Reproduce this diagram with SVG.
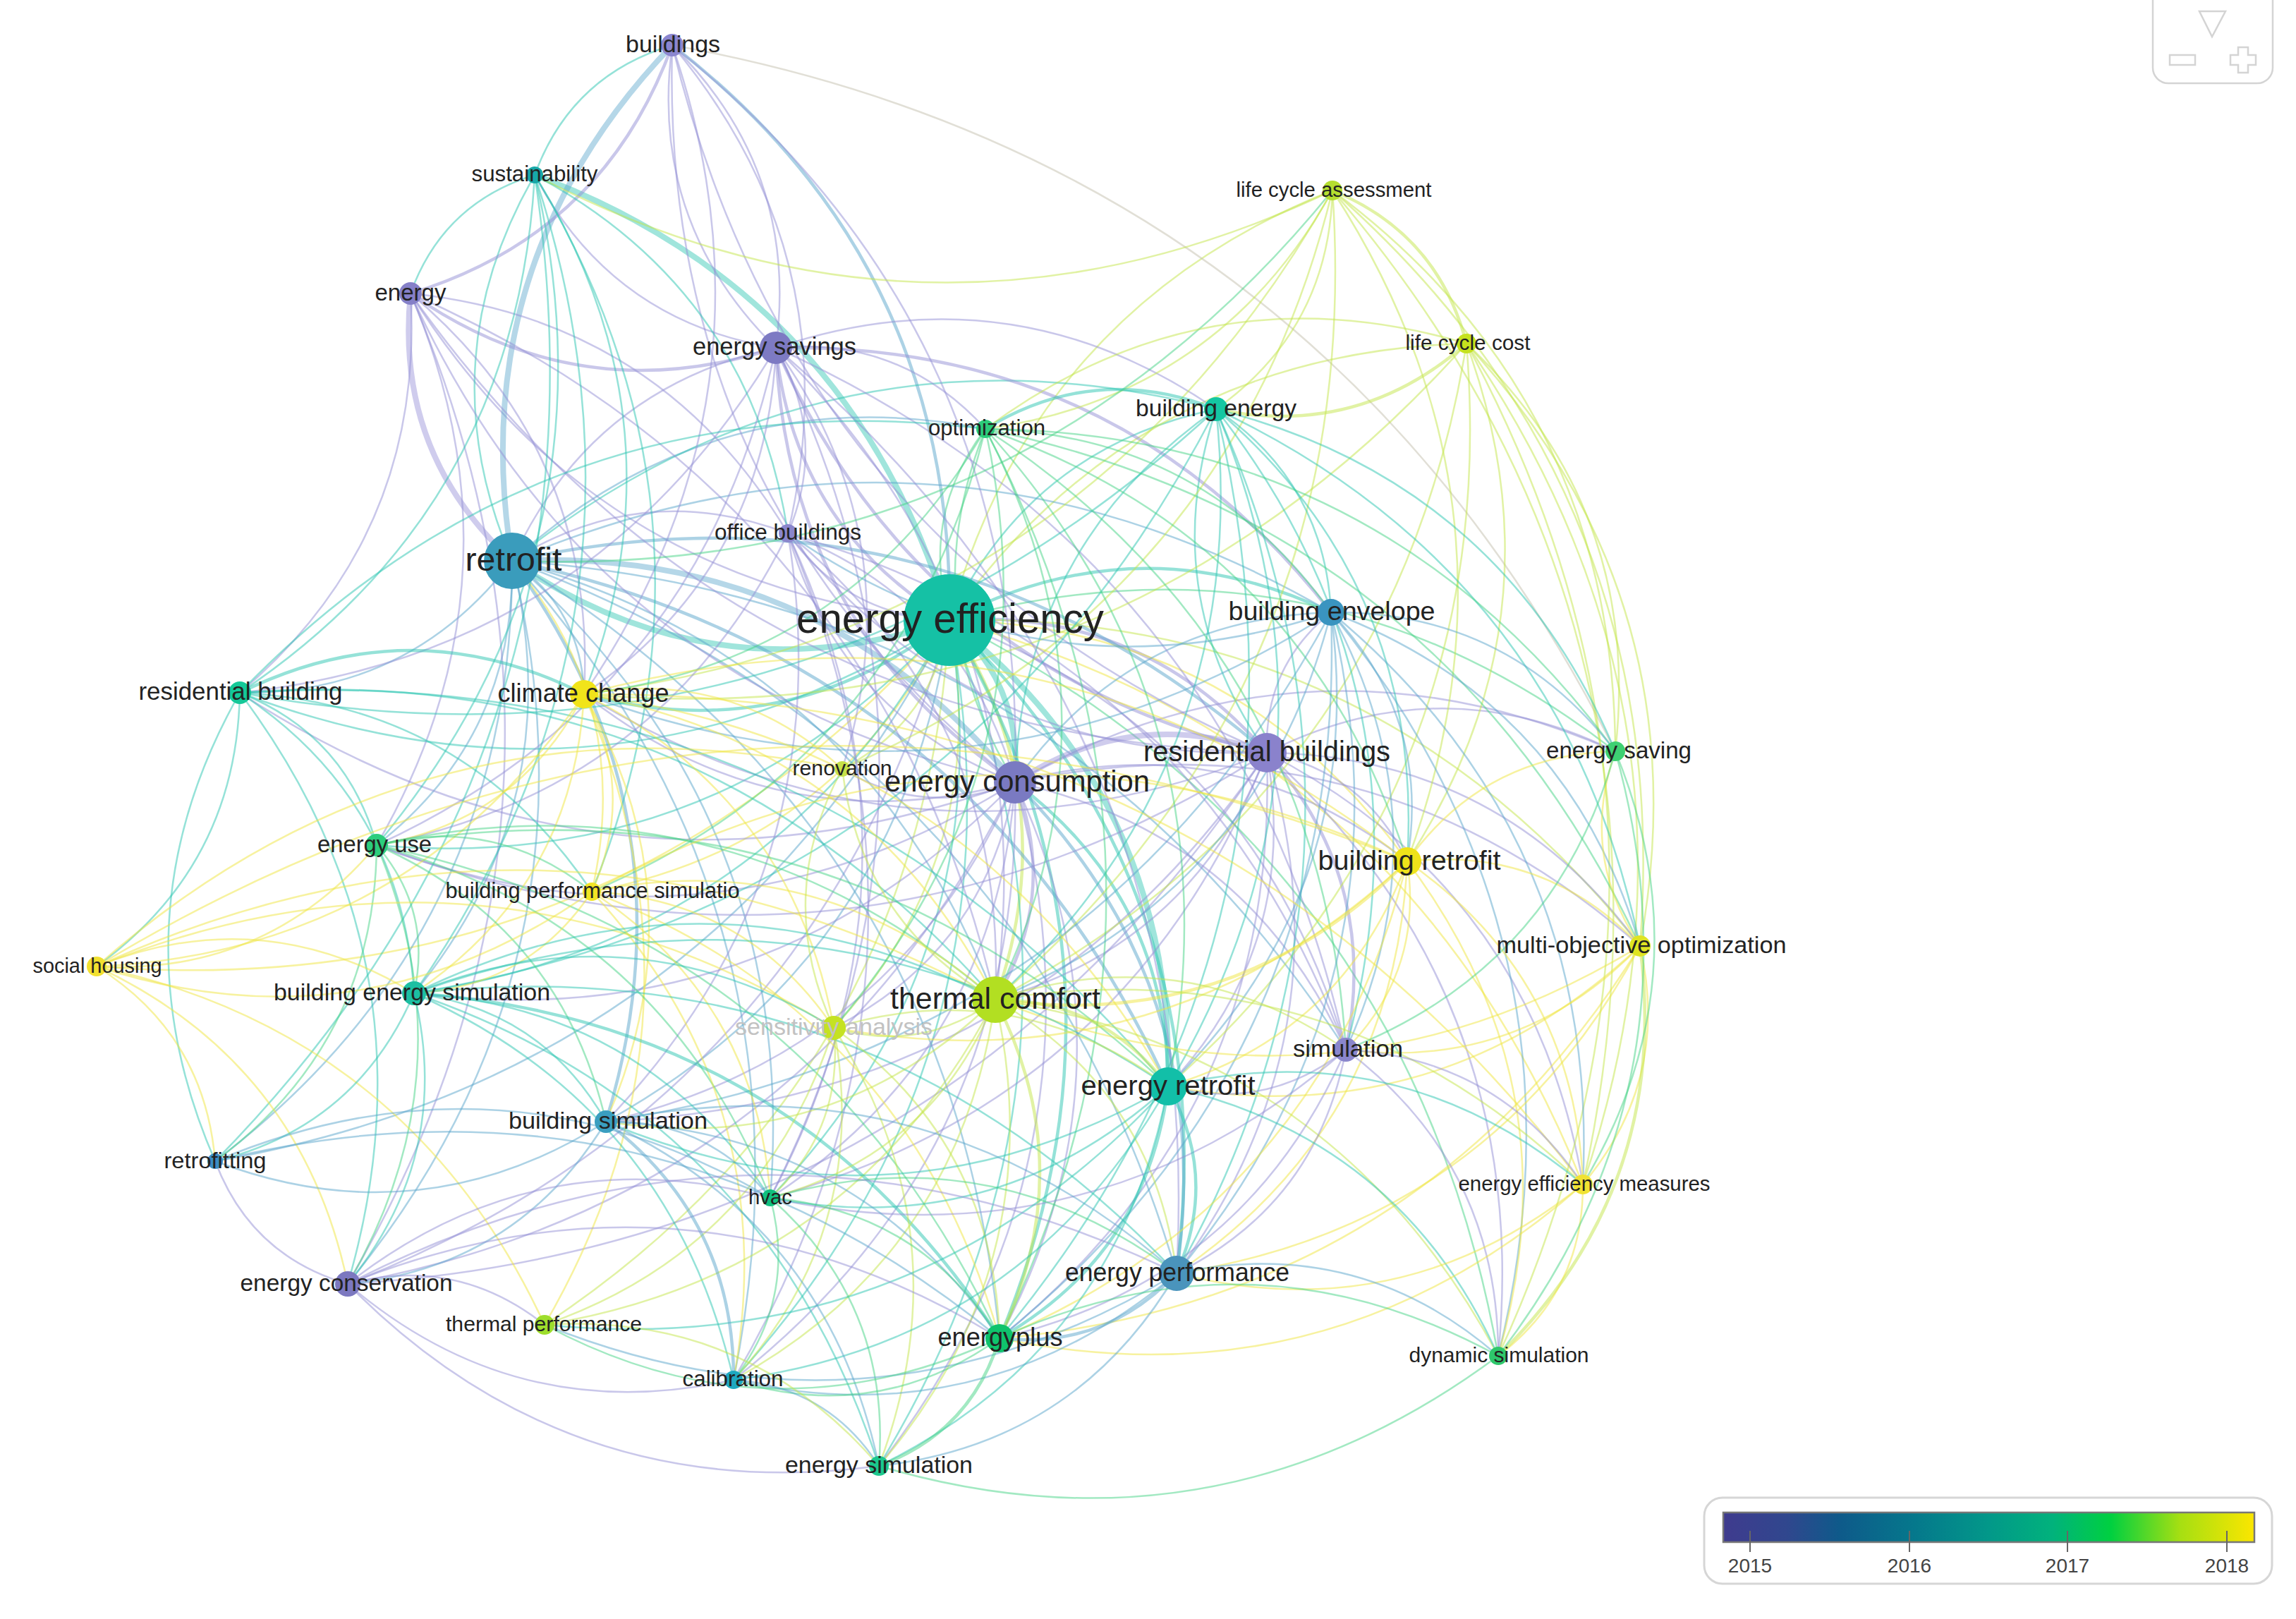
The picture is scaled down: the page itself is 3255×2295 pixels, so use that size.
<svg xmlns="http://www.w3.org/2000/svg" width="3255" height="2295" viewBox="0 0 3255 2295">
<defs>
<linearGradient id="leg" x1="0" y1="0" x2="1" y2="0">
<stop offset="0" stop-color="#3f3b8e"/>
<stop offset="0.12" stop-color="#30478e"/>
<stop offset="0.22" stop-color="#0e5a8a"/>
<stop offset="0.36" stop-color="#05788c"/>
<stop offset="0.5" stop-color="#029889"/>
<stop offset="0.62" stop-color="#01b27c"/>
<stop offset="0.73" stop-color="#00d040"/>
<stop offset="0.86" stop-color="#a6df12"/>
<stop offset="1" stop-color="#fbe600"/>
</linearGradient>
</defs>
<style>
.e path{fill:none;stroke-opacity:.5;stroke-width:2.5;vector-effect:non-scaling-stroke}
.e .m{stroke-width:4.5}
.e .h{stroke-width:8;stroke-opacity:.45}
.p{stroke:#948fd6}
.b{stroke:#5aa6cc}
.t{stroke:#2cc6b2}
.g{stroke:#46d486}
.y{stroke:#c4e64a}
.Y{stroke:#efe540}
.k{stroke:#c4bfae}
.n text{font-family:"Liberation Sans",Arial,sans-serif;fill:#222;text-anchor:middle}
.lg{font-family:"Liberation Sans",Arial,sans-serif;fill:#444;font-size:28px;text-anchor:middle}
</style>
<rect width="3255" height="2295" fill="#fff"/>
<g id="connectors" class="e">
<path class="t h" transform="matrix(588 631 -631 588 758 248)" d="M0 0Q.5-.25 1 0"/>
<path class="t h" transform="matrix(-620 -84 84 -620 1346 879)" d="M0 0Q.5-.25 1 0"/>
<path class="t h" transform="matrix(93 230 -230 93 1346 879)" d="M0 0Q.5-.25 1 0"/>
<path class="t h" transform="matrix(310 661 -661 310 1346 879)" d="M0 0Q.5-.25 1 0"/>
<path class="p m" transform="matrix(-246 -386 386 -246 1346 879)" d="M0 0Q.5-.25 1 0"/>
<path class="p m" transform="matrix(450 188 -188 450 1346 879)" d="M0 0Q.5-.25 1 0"/>
<path class="t m" transform="matrix(541 -11 11 541 1346 879)" d="M0 0Q.5-.25 1 0"/>
<path class="t" transform="matrix(378 -299 299 378 1346 879)" d="M0 0Q.5-.25 1 0"/>
<path class="g" transform="matrix(51 -271 271 51 1346 879)" d="M0 0Q.5-.25 1 0"/>
<path class="p" transform="matrix(-229 -123 123 -229 1346 879)" d="M0 0Q.5-.25 1 0"/>
<path class="t m" transform="matrix(-518 105 -105 -518 1346 879)" d="M0 0Q.5-.25 1 0"/>
<path class="t" transform="matrix(-1006 103 -103 -1006 1346 879)" d="M0 0Q.5-.25 1 0"/>
<path class="t" transform="matrix(-812 319 -319 -812 1346 879)" d="M0 0Q.5-.25 1 0"/>
<path class="Y" transform="matrix(-507 385 -385 -507 1346 879)" d="M0 0Q.5-.25 1 0"/>
<path class="t" transform="matrix(-759 529 -529 -759 1346 879)" d="M0 0Q.5-.25 1 0"/>
<path class="y m" transform="matrix(65 538 -538 65 1346 879)" d="M0 0Q.5-.25 1 0"/>
<path class="y" transform="matrix(-164 578 -578 -164 1346 879)" d="M0 0Q.5-.25 1 0"/>
<path class="t m" transform="matrix(322 926 -926 322 1346 879)" d="M0 0Q.5-.25 1 0"/>
<path class="t m" transform="matrix(71 1018 -1018 71 1346 879)" d="M0 0Q.5-.25 1 0"/>
<path class="t" transform="matrix(-254 819 -819 -254 1346 879)" d="M0 0Q.5-.25 1 0"/>
<path class="t" transform="matrix(-306 1077 -1077 -306 1346 879)" d="M0 0Q.5-.25 1 0"/>
<path class="t" transform="matrix(-100 1199 -1199 -100 1346 879)" d="M0 0Q.5-.25 1 0"/>
<path class="b" transform="matrix(-487 711 -711 -487 1346 879)" d="M0 0Q.5-.25 1 0"/>
<path class="p" transform="matrix(562 609 -609 562 1346 879)" d="M0 0Q.5-.25 1 0"/>
<path class="Y" transform="matrix(649 342 -342 649 1346 879)" d="M0 0Q.5-.25 1 0"/>
<path class="y" transform="matrix(979 462 -462 979 1346 879)" d="M0 0Q.5-.25 1 0"/>
<path class="g" transform="matrix(944 186 -186 944 1346 879)" d="M0 0Q.5-.25 1 0"/>
<path class="y" transform="matrix(733 -392 392 733 1346 879)" d="M0 0Q.5-.25 1 0"/>
<path class="y" transform="matrix(543 -609 609 543 1346 879)" d="M0 0Q.5-.25 1 0"/>
<path class="Y" transform="matrix(898 800 -800 898 1346 879)" d="M0 0Q.5-.25 1 0"/>
<path class="g" transform="matrix(778 1043 -1043 778 1346 879)" d="M0 0Q.5-.25 1 0"/>
<path class="p" transform="matrix(-853 941 -941 -853 1346 879)" d="M0 0Q.5-.25 1 0"/>
<path class="b" transform="matrix(-1041 767 -767 -1041 1346 879)" d="M0 0Q.5-.25 1 0"/>
<path class="Y" transform="matrix(-1209 491 -491 -1209 1346 879)" d="M0 0Q.5-.25 1 0"/>
<path class="p" transform="matrix(-764 -463 463 -764 1346 879)" d="M0 0Q.5-.25 1 0"/>
<path class="b m" transform="matrix(393 815 -815 393 953 64)" d="M0 0Q.5-.25 1 0"/>
<path class="y" transform="matrix(-152 211 -211 -152 1346 879)" d="M0 0Q.5-.25 1 0"/>
<path class="y" transform="matrix(-574 999 -999 -574 1346 879)" d="M0 0Q.5-.25 1 0"/>
<path class="b h" transform="matrix(227 -731 731 227 726 795)" d="M0 0Q.5-.25 1 0"/>
<path class="p h" transform="matrix(-144 -379 379 -144 726 795)" d="M0 0Q.5-.25 1 0"/>
<path class="t" transform="matrix(32 -547 547 32 726 795)" d="M0 0Q.5-.25 1 0"/>
<path class="p" transform="matrix(374 -302 302 374 726 795)" d="M0 0Q.5-.25 1 0"/>
<path class="b h" transform="matrix(713 314 -314 713 726 795)" d="M0 0Q.5-.25 1 0"/>
<path class="b m" transform="matrix(1070 272 -272 1070 726 795)" d="M0 0Q.5-.25 1 0"/>
<path class="b" transform="matrix(1161 73 -73 1161 726 795)" d="M0 0Q.5-.25 1 0"/>
<path class="b" transform="matrix(102 189 -189 102 726 795)" d="M0 0Q.5-.25 1 0"/>
<path class="b" transform="matrix(-386 187 -187 -386 726 795)" d="M0 0Q.5-.25 1 0"/>
<path class="b" transform="matrix(-192 403 -403 -192 726 795)" d="M0 0Q.5-.25 1 0"/>
<path class="b" transform="matrix(-139 613 -613 -139 726 795)" d="M0 0Q.5-.25 1 0"/>
<path class="b m" transform="matrix(133 795 -795 133 726 795)" d="M0 0Q.5-.25 1 0"/>
<path class="b m" transform="matrix(930 745 -745 930 726 795)" d="M0 0Q.5-.25 1 0"/>
<path class="b" transform="matrix(942 1010 -1010 942 726 795)" d="M0 0Q.5-.25 1 0"/>
<path class="b" transform="matrix(685 622 -622 685 726 795)" d="M0 0Q.5-.25 1 0"/>
<path class="b" transform="matrix(1182 693 -693 1182 726 795)" d="M0 0Q.5-.25 1 0"/>
<path class="b" transform="matrix(-233 1025 -1025 -233 726 795)" d="M0 0Q.5-.25 1 0"/>
<path class="b" transform="matrix(-421 851 -851 -421 726 795)" d="M0 0Q.5-.25 1 0"/>
<path class="b" transform="matrix(671 -187 187 671 726 795)" d="M0 0Q.5-.25 1 0"/>
<path class="t" transform="matrix(998 -215 215 998 726 795)" d="M0 0Q.5-.25 1 0"/>
<path class="b" transform="matrix(314 1161 -1161 314 726 795)" d="M0 0Q.5-.25 1 0"/>
<path class="b" transform="matrix(691 1102 -1102 691 726 795)" d="M0 0Q.5-.25 1 0"/>
<path class="b" transform="matrix(366 903 -903 366 726 795)" d="M0 0Q.5-.25 1 0"/>
<path class="p" transform="matrix(391 -39 39 391 726 795)" d="M0 0Q.5-.25 1 0"/>
<path class="Y" transform="matrix(113 469 -469 113 726 795)" d="M0 0Q.5-.25 1 0"/>
<path class="p m" transform="matrix(-339 -616 616 -339 1439 1109)" d="M0 0Q.5-.25 1 0"/>
<path class="p" transform="matrix(-857 -693 693 -857 1439 1109)" d="M0 0Q.5-.25 1 0"/>
<path class="p" transform="matrix(-486 -1045 1045 -486 1439 1109)" d="M0 0Q.5-.25 1 0"/>
<path class="p" transform="matrix(-322 -353 353 -322 1439 1109)" d="M0 0Q.5-.25 1 0"/>
<path class="p h" transform="matrix(357 -42 42 357 1439 1109)" d="M0 0Q.5-.25 1 0"/>
<path class="b" transform="matrix(448 -241 241 448 1439 1109)" d="M0 0Q.5-.25 1 0"/>
<path class="p" transform="matrix(469 379 -379 469 1439 1109)" d="M0 0Q.5-.25 1 0"/>
<path class="b m" transform="matrix(229 696 -696 229 1439 1109)" d="M0 0Q.5-.25 1 0"/>
<path class="t m" transform="matrix(217 431 -431 217 1439 1109)" d="M0 0Q.5-.25 1 0"/>
<path class="p m" transform="matrix(-28 308 -308 -28 1439 1109)" d="M0 0Q.5-.25 1 0"/>
<path class="p" transform="matrix(-22 788 -788 -22 1439 1109)" d="M0 0Q.5-.25 1 0"/>
<path class="p" transform="matrix(-347 589 -589 -347 1439 1109)" d="M0 0Q.5-.25 1 0"/>
<path class="p" transform="matrix(-580 481 -481 -580 1439 1109)" d="M0 0Q.5-.25 1 0"/>
<path class="p" transform="matrix(-399 847 -847 -399 1439 1109)" d="M0 0Q.5-.25 1 0"/>
<path class="p" transform="matrix(-905 89 -89 -905 1439 1109)" d="M0 0Q.5-.25 1 0"/>
<path class="p" transform="matrix(-1099 -127 127 -1099 1439 1109)" d="M0 0Q.5-.25 1 0"/>
<path class="p" transform="matrix(-946 711 -711 -946 1439 1109)" d="M0 0Q.5-.25 1 0"/>
<path class="p" transform="matrix(-611 -125 125 -611 1439 1109)" d="M0 0Q.5-.25 1 0"/>
<path class="p" transform="matrix(-193 969 -969 -193 1439 1109)" d="M0 0Q.5-.25 1 0"/>
<path class="p" transform="matrix(-852 299 -299 -852 1439 1109)" d="M0 0Q.5-.25 1 0"/>
<path class="g" transform="matrix(-42 -501 501 -42 1439 1109)" d="M0 0Q.5-.25 1 0"/>
<path class="p" transform="matrix(851 -44 44 851 1439 1109)" d="M0 0Q.5-.25 1 0"/>
<path class="p" transform="matrix(556 112 -112 556 1439 1109)" d="M0 0Q.5-.25 1 0"/>
<path class="p" transform="matrix(886 232 -232 886 1439 1109)" d="M0 0Q.5-.25 1 0"/>
<path class="t" transform="matrix(285 -529 529 285 1439 1109)" d="M0 0Q.5-.25 1 0"/>
<path class="p" transform="matrix(-257 348 -348 -257 1439 1109)" d="M0 0Q.5-.25 1 0"/>
<path class="p" transform="matrix(-245 -19 19 -245 1439 1109)" d="M0 0Q.5-.25 1 0"/>
<path class="p m" transform="matrix(-696 -574 574 -696 1796 1067)" d="M0 0Q.5-.25 1 0"/>
<path class="p" transform="matrix(-1214 -651 651 -1214 1796 1067)" d="M0 0Q.5-.25 1 0"/>
<path class="p" transform="matrix(-843 -1003 1003 -843 1796 1067)" d="M0 0Q.5-.25 1 0"/>
<path class="p" transform="matrix(-679 -311 311 -679 1796 1067)" d="M0 0Q.5-.25 1 0"/>
<path class="p" transform="matrix(91 -199 199 91 1796 1067)" d="M0 0Q.5-.25 1 0"/>
<path class="p m" transform="matrix(112 421 -421 112 1796 1067)" d="M0 0Q.5-.25 1 0"/>
<path class="p" transform="matrix(-128 738 -738 -128 1796 1067)" d="M0 0Q.5-.25 1 0"/>
<path class="p" transform="matrix(-140 473 -473 -140 1796 1067)" d="M0 0Q.5-.25 1 0"/>
<path class="p" transform="matrix(-385 350 -350 -385 1796 1067)" d="M0 0Q.5-.25 1 0"/>
<path class="p" transform="matrix(199 154 -154 199 1796 1067)" d="M0 0Q.5-.25 1 0"/>
<path class="p" transform="matrix(529 274 -274 529 1796 1067)" d="M0 0Q.5-.25 1 0"/>
<path class="p" transform="matrix(494 -2 2 494 1796 1067)" d="M0 0Q.5-.25 1 0"/>
<path class="p" transform="matrix(-379 830 -830 -379 1796 1067)" d="M0 0Q.5-.25 1 0"/>
<path class="p" transform="matrix(-1303 753 -753 -1303 1796 1067)" d="M0 0Q.5-.25 1 0"/>
<path class="p" transform="matrix(-968 -83 83 -968 1796 1067)" d="M0 0Q.5-.25 1 0"/>
<path class="p" transform="matrix(-937 523 -523 -937 1796 1067)" d="M0 0Q.5-.25 1 0"/>
<path class="p" transform="matrix(-704 631 -631 -704 1796 1067)" d="M0 0Q.5-.25 1 0"/>
<path class="p" transform="matrix(-1262 131 -131 -1262 1796 1067)" d="M0 0Q.5-.25 1 0"/>
<path class="p" transform="matrix(448 612 -612 448 1796 1067)" d="M0 0Q.5-.25 1 0"/>
<path class="p" transform="matrix(328 855 -855 328 1796 1067)" d="M0 0Q.5-.25 1 0"/>
<path class="t" transform="matrix(-72 -487 487 -72 1796 1067)" d="M0 0Q.5-.25 1 0"/>
<path class="p" transform="matrix(-147 -429 429 -147 1100 493)" d="M0 0Q.5-.25 1 0"/>
<path class="p m" transform="matrix(-518 -77 77 -518 1100 493)" d="M0 0Q.5-.25 1 0"/>
<path class="p" transform="matrix(17 263 -263 17 1100 493)" d="M0 0Q.5-.25 1 0"/>
<path class="p" transform="matrix(-342 -245 245 -342 1100 493)" d="M0 0Q.5-.25 1 0"/>
<path class="p" transform="matrix(297 115 -115 297 1100 493)" d="M0 0Q.5-.25 1 0"/>
<path class="p" transform="matrix(624 87 -87 624 1100 493)" d="M0 0Q.5-.25 1 0"/>
<path class="p m" transform="matrix(787 375 -375 787 1100 493)" d="M0 0Q.5-.25 1 0"/>
<path class="p" transform="matrix(311 924 -924 311 1100 493)" d="M0 0Q.5-.25 1 0"/>
<path class="p" transform="matrix(808 995 -995 808 1100 493)" d="M0 0Q.5-.25 1 0"/>
<path class="p" transform="matrix(568 1312 -1312 568 1100 493)" d="M0 0Q.5-.25 1 0"/>
<path class="p" transform="matrix(-272 491 -491 -272 1100 493)" d="M0 0Q.5-.25 1 0"/>
<path class="p" transform="matrix(-566 705 -705 -566 1100 493)" d="M0 0Q.5-.25 1 0"/>
<path class="p" transform="matrix(-760 489 -489 -760 1100 493)" d="M0 0Q.5-.25 1 0"/>
<path class="p" transform="matrix(94 597 -597 94 1100 493)" d="M0 0Q.5-.25 1 0"/>
<path class="p" transform="matrix(-8 1205 -1205 -8 1100 493)" d="M0 0Q.5-.25 1 0"/>
<path class="t" transform="matrix(195 -184 184 195 758 248)" d="M0 0Q.5-.25 1 0"/>
<path class="p m" transform="matrix(-371 352 -352 -371 953 64)" d="M0 0Q.5-.25 1 0"/>
<path class="p" transform="matrix(147 429 -429 147 953 64)" d="M0 0Q.5-.25 1 0"/>
<path class="p" transform="matrix(164 692 -692 164 953 64)" d="M0 0Q.5-.25 1 0"/>
<path class="p" transform="matrix(486 1045 -1045 486 953 64)" d="M0 0Q.5-.25 1 0"/>
<path class="k" transform="matrix(1337 1001 -1001 1337 953 64)" d="M0 0Q.5-.25 1 0"/>
<path class="p" transform="matrix(-125 920 -920 -125 953 64)" d="M0 0Q.5-.25 1 0"/>
<path class="t" transform="matrix(176 -168 168 176 582 416)" d="M0 0Q.5-.25 1 0"/>
<path class="p" transform="matrix(-242 566 -566 -242 582 416)" d="M0 0Q.5-.25 1 0"/>
<path class="p" transform="matrix(-48 782 -782 -48 582 416)" d="M0 0Q.5-.25 1 0"/>
<path class="p" transform="matrix(535 340 -340 535 582 416)" d="M0 0Q.5-.25 1 0"/>
<path class="p" transform="matrix(-89 1404 -1404 -89 582 416)" d="M0 0Q.5-.25 1 0"/>
<path class="p" transform="matrix(246 568 -568 246 582 416)" d="M0 0Q.5-.25 1 0"/>
<path class="p" transform="matrix(829 1001 -1001 829 582 416)" d="M0 0Q.5-.25 1 0"/>
<path class="t" transform="matrix(-418 734 -734 -418 758 248)" d="M0 0Q.5-.25 1 0"/>
<path class="t" transform="matrix(-224 950 -950 -224 758 248)" d="M0 0Q.5-.25 1 0"/>
<path class="t" transform="matrix(70 736 -736 70 758 248)" d="M0 0Q.5-.25 1 0"/>
<path class="t" transform="matrix(81 1016 -1016 81 758 248)" d="M0 0Q.5-.25 1 0"/>
<path class="t" transform="matrix(-171 1160 -1160 -171 758 248)" d="M0 0Q.5-.25 1 0"/>
<path class="t" transform="matrix(359 508 -508 359 758 248)" d="M0 0Q.5-.25 1 0"/>
<path class="y" transform="matrix(-1131 -22 22 -1131 1889 270)" d="M0 0Q.5-.25 1 0"/>
<path class="t" transform="matrix(-453 1398 -1398 -453 758 248)" d="M0 0Q.5-.25 1 0"/>
<path class="y m" transform="matrix(190 217 -217 190 1889 270)" d="M0 0Q.5-.25 1 0"/>
<path class="y" transform="matrix(-165 310 -310 -165 1889 270)" d="M0 0Q.5-.25 1 0"/>
<path class="y" transform="matrix(-492 338 -338 -492 1889 270)" d="M0 0Q.5-.25 1 0"/>
<path class="y" transform="matrix(106 951 -951 106 1889 270)" d="M0 0Q.5-.25 1 0"/>
<path class="y" transform="matrix(436 1071 -1071 436 1889 270)" d="M0 0Q.5-.25 1 0"/>
<path class="y" transform="matrix(-478 1147 -1147 -478 1889 270)" d="M0 0Q.5-.25 1 0"/>
<path class="y" transform="matrix(401 795 -795 401 1889 270)" d="M0 0Q.5-.25 1 0"/>
<path class="y" transform="matrix(-695 820 -820 -695 1889 270)" d="M0 0Q.5-.25 1 0"/>
<path class="y" transform="matrix(-1061 714 -714 -1061 1889 270)" d="M0 0Q.5-.25 1 0"/>
<path class="y" transform="matrix(355 1409 -1409 355 1889 270)" d="M0 0Q.5-.25 1 0"/>
<path class="g" transform="matrix(-1163 525 -525 -1163 1889 270)" d="M0 0Q.5-.25 1 0"/>
<path class="y m" transform="matrix(-355 93 -93 -355 2079 487)" d="M0 0Q.5-.25 1 0"/>
<path class="y" transform="matrix(-84 734 -734 -84 2079 487)" d="M0 0Q.5-.25 1 0"/>
<path class="y" transform="matrix(246 854 -854 246 2079 487)" d="M0 0Q.5-.25 1 0"/>
<path class="y" transform="matrix(165 1192 -1192 165 2079 487)" d="M0 0Q.5-.25 1 0"/>
<path class="y" transform="matrix(211 578 -578 211 2079 487)" d="M0 0Q.5-.25 1 0"/>
<path class="y" transform="matrix(45 1435 -1435 45 2079 487)" d="M0 0Q.5-.25 1 0"/>
<path class="y" transform="matrix(-668 930 -930 -668 2079 487)" d="M0 0Q.5-.25 1 0"/>
<path class="y" transform="matrix(-423 1053 -1053 -423 2079 487)" d="M0 0Q.5-.25 1 0"/>
<path class="y" transform="matrix(-1251 497 -497 -1251 2079 487)" d="M0 0Q.5-.25 1 0"/>
<path class="t m" transform="matrix(327 -28 28 327 1397 608)" d="M0 0Q.5-.25 1 0"/>
<path class="t" transform="matrix(163 288 -288 163 1724 580)" d="M0 0Q.5-.25 1 0"/>
<path class="t" transform="matrix(-68 960 -960 -68 1724 580)" d="M0 0Q.5-.25 1 0"/>
<path class="t" transform="matrix(-313 837 -837 -313 1724 580)" d="M0 0Q.5-.25 1 0"/>
<path class="t" transform="matrix(-1137 828 -828 -1137 1724 580)" d="M0 0Q.5-.25 1 0"/>
<path class="t" transform="matrix(566 485 -485 566 1724 580)" d="M0 0Q.5-.25 1 0"/>
<path class="t" transform="matrix(601 761 -761 601 1724 580)" d="M0 0Q.5-.25 1 0"/>
<path class="t" transform="matrix(271 641 -641 271 1724 580)" d="M0 0Q.5-.25 1 0"/>
<path class="t" transform="matrix(-1384 402 -402 -1384 1724 580)" d="M0 0Q.5-.25 1 0"/>
<path class="t" transform="matrix(-56 1225 -1225 -56 1724 580)" d="M0 0Q.5-.25 1 0"/>
<path class="t" transform="matrix(-307 1317 -1317 -307 1724 580)" d="M0 0Q.5-.25 1 0"/>
<path class="t" transform="matrix(184 908 -908 184 1724 580)" d="M0 0Q.5-.25 1 0"/>
<path class="g" transform="matrix(490 260 -260 490 1397 608)" d="M0 0Q.5-.25 1 0"/>
<path class="g" transform="matrix(928 733 -733 928 1397 608)" d="M0 0Q.5-.25 1 0"/>
<path class="g" transform="matrix(598 613 -613 598 1397 608)" d="M0 0Q.5-.25 1 0"/>
<path class="g" transform="matrix(14 809 -809 14 1397 608)" d="M0 0Q.5-.25 1 0"/>
<path class="g" transform="matrix(-215 849 -849 -215 1397 608)" d="M0 0Q.5-.25 1 0"/>
<path class="g" transform="matrix(20 1289 -1289 20 1397 608)" d="M0 0Q.5-.25 1 0"/>
<path class="g" transform="matrix(-558 656 -656 -558 1397 608)" d="M0 0Q.5-.25 1 0"/>
<path class="g" transform="matrix(-569 376 -376 -569 1397 608)" d="M0 0Q.5-.25 1 0"/>
<path class="g" transform="matrix(893 457 -457 893 1397 608)" d="M0 0Q.5-.25 1 0"/>
<path class="y" transform="matrix(682 -121 121 682 1397 608)" d="M0 0Q.5-.25 1 0"/>
<path class="t" transform="matrix(1057 -374 374 1057 340 982)" d="M0 0Q.5-.25 1 0"/>
<path class="g" transform="matrix(259 932 -932 259 1397 608)" d="M0 0Q.5-.25 1 0"/>
<path class="g" transform="matrix(511 880 -880 511 1397 608)" d="M0 0Q.5-.25 1 0"/>
<path class="p" transform="matrix(322 353 -353 322 1117 756)" d="M0 0Q.5-.25 1 0"/>
<path class="p" transform="matrix(-25 942 -942 -25 1117 756)" d="M0 0Q.5-.25 1 0"/>
<path class="p" transform="matrix(-258 834 -834 -258 1117 756)" d="M0 0Q.5-.25 1 0"/>
<path class="p" transform="matrix(791 732 -732 791 1117 756)" d="M0 0Q.5-.25 1 0"/>
<path class="p" transform="matrix(294 661 -661 294 1117 756)" d="M0 0Q.5-.25 1 0"/>
<path class="p" transform="matrix(-583 442 -442 -583 1117 756)" d="M0 0Q.5-.25 1 0"/>
<path class="p" transform="matrix(-77 1200 -1200 -77 1117 756)" d="M0 0Q.5-.25 1 0"/>
<path class="b" transform="matrix(21 620 -620 21 1887 868)" d="M0 0Q.5-.25 1 0"/>
<path class="b" transform="matrix(-219 937 -937 -219 1887 868)" d="M0 0Q.5-.25 1 0"/>
<path class="b" transform="matrix(-231 672 -672 -231 1887 868)" d="M0 0Q.5-.25 1 0"/>
<path class="b" transform="matrix(108 353 -353 108 1887 868)" d="M0 0Q.5-.25 1 0"/>
<path class="b" transform="matrix(438 473 -473 438 1887 868)" d="M0 0Q.5-.25 1 0"/>
<path class="b" transform="matrix(-476 549 -549 -476 1887 868)" d="M0 0Q.5-.25 1 0"/>
<path class="b" transform="matrix(-470 1029 -1029 -470 1887 868)" d="M0 0Q.5-.25 1 0"/>
<path class="b" transform="matrix(237 1054 -1054 237 1887 868)" d="M0 0Q.5-.25 1 0"/>
<path class="b" transform="matrix(403 197 -197 403 1887 868)" d="M0 0Q.5-.25 1 0"/>
<path class="b" transform="matrix(-1059 116 -116 -1059 1887 868)" d="M0 0Q.5-.25 1 0"/>
<path class="b" transform="matrix(-1028 722 -722 -1028 1887 868)" d="M0 0Q.5-.25 1 0"/>
<path class="b" transform="matrix(357 811 -811 357 1887 868)" d="M0 0Q.5-.25 1 0"/>
<path class="b" transform="matrix(-770 -112 112 -770 1887 868)" d="M0 0Q.5-.25 1 0"/>
<path class="t" transform="matrix(194 216 -216 194 340 982)" d="M0 0Q.5-.25 1 0"/>
<path class="t" transform="matrix(247 426 -426 247 340 982)" d="M0 0Q.5-.25 1 0"/>
<path class="t m" transform="matrix(488 2 -2 488 340 982)" d="M0 0Q.5-.25 1 0"/>
<path class="t" transform="matrix(1316 558 -558 1316 340 982)" d="M0 0Q.5-.25 1 0"/>
<path class="t" transform="matrix(1071 435 -435 1071 340 982)" d="M0 0Q.5-.25 1 0"/>
<path class="t" transform="matrix(-203 388 -388 -203 340 982)" d="M0 0Q.5-.25 1 0"/>
<path class="t" transform="matrix(35 -664 664 35 305 1646)" d="M0 0Q.5-.25 1 0"/>
<path class="t" transform="matrix(153 838 -838 153 340 982)" d="M0 0Q.5-.25 1 0"/>
<path class="t" transform="matrix(499 282 -282 499 340 982)" d="M0 0Q.5-.25 1 0"/>
<path class="Y" transform="matrix(366 106 -106 366 828 984)" d="M0 0Q.5-.25 1 0"/>
<path class="Y" transform="matrix(11 280 -280 11 828 984)" d="M0 0Q.5-.25 1 0"/>
<path class="Y" transform="matrix(583 433 -433 583 828 984)" d="M0 0Q.5-.25 1 0"/>
<path class="Y" transform="matrix(-294 214 -214 -294 828 984)" d="M0 0Q.5-.25 1 0"/>
<path class="Y" transform="matrix(-241 424 -424 -241 828 984)" d="M0 0Q.5-.25 1 0"/>
<path class="Y" transform="matrix(-691 386 -386 -691 828 984)" d="M0 0Q.5-.25 1 0"/>
<path class="Y" transform="matrix(1167 237 -237 1167 828 984)" d="M0 0Q.5-.25 1 0"/>
<path class="Y" transform="matrix(354 473 -473 354 828 984)" d="M0 0Q.5-.25 1 0"/>
<path class="Y" transform="matrix(828 556 -556 828 828 984)" d="M0 0Q.5-.25 1 0"/>
<path class="Y" transform="matrix(1416 695 -695 1416 828 984)" d="M0 0Q.5-.25 1 0"/>
<path class="Y" transform="matrix(-56 894 -894 -56 828 984)" d="M0 0Q.5-.25 1 0"/>
<path class="Y" transform="matrix(31 606 -606 31 828 984)" d="M0 0Q.5-.25 1 0"/>
<path class="g" transform="matrix(53 210 -210 53 534 1198)" d="M0 0Q.5-.25 1 0"/>
<path class="Y" transform="matrix(-397 172 -172 -397 534 1198)" d="M0 0Q.5-.25 1 0"/>
<path class="g" transform="matrix(305 66 -66 305 534 1198)" d="M0 0Q.5-.25 1 0"/>
<path class="g" transform="matrix(558 500 -500 558 534 1198)" d="M0 0Q.5-.25 1 0"/>
<path class="g" transform="matrix(877 219 -219 877 534 1198)" d="M0 0Q.5-.25 1 0"/>
<path class="g" transform="matrix(1122 342 -342 1122 534 1198)" d="M0 0Q.5-.25 1 0"/>
<path class="g" transform="matrix(-41 622 -622 -41 534 1198)" d="M0 0Q.5-.25 1 0"/>
<path class="g" transform="matrix(-229 448 -448 -229 534 1198)" d="M0 0Q.5-.25 1 0"/>
<path class="g" transform="matrix(883 699 -699 883 534 1198)" d="M0 0Q.5-.25 1 0"/>
<path class="g" transform="matrix(325 392 -392 325 534 1198)" d="M0 0Q.5-.25 1 0"/>
<path class="Y" transform="matrix(-702 106 -106 -702 839 1264)" d="M0 0Q.5-.25 1 0"/>
<path class="Y" transform="matrix(572 153 -153 572 839 1264)" d="M0 0Q.5-.25 1 0"/>
<path class="Y" transform="matrix(343 193 -193 343 839 1264)" d="M0 0Q.5-.25 1 0"/>
<path class="Y" transform="matrix(1156 -43 43 1156 839 1264)" d="M0 0Q.5-.25 1 0"/>
<path class="Y" transform="matrix(578 633 -633 578 839 1264)" d="M0 0Q.5-.25 1 0"/>
<path class="Y" transform="matrix(201 692 -692 201 839 1264)" d="M0 0Q.5-.25 1 0"/>
<path class="Y" transform="matrix(253 434 -434 253 839 1264)" d="M0 0Q.5-.25 1 0"/>
<path class="Y" transform="matrix(-252 144 -144 -252 839 1264)" d="M0 0Q.5-.25 1 0"/>
<path class="Y" transform="matrix(330 120 -120 330 1995 1221)" d="M0 0Q.5-.25 1 0"/>
<path class="Y" transform="matrix(-87 267 -267 -87 1995 1221)" d="M0 0Q.5-.25 1 0"/>
<path class="Y" transform="matrix(-339 319 -319 -339 1995 1221)" d="M0 0Q.5-.25 1 0"/>
<path class="Y m" transform="matrix(-584 196 -196 -584 1995 1221)" d="M0 0Q.5-.25 1 0"/>
<path class="Y" transform="matrix(249 458 -458 249 1995 1221)" d="M0 0Q.5-.25 1 0"/>
<path class="Y" transform="matrix(295 -156 156 295 1995 1221)" d="M0 0Q.5-.25 1 0"/>
<path class="Y" transform="matrix(129 701 -701 129 1995 1221)" d="M0 0Q.5-.25 1 0"/>
<path class="Y" transform="matrix(-327 584 -584 -327 1995 1221)" d="M0 0Q.5-.25 1 0"/>
<path class="Y" transform="matrix(-813 236 -236 -813 1995 1221)" d="M0 0Q.5-.25 1 0"/>
<path class="Y" transform="matrix(-578 676 -676 -578 1995 1221)" d="M0 0Q.5-.25 1 0"/>
<path class="Y" transform="matrix(1858 -149 149 1858 137 1370)" d="M0 0Q.5-.25 1 0"/>
<path class="Y" transform="matrix(-35 -276 276 -35 2325 1341)" d="M0 0Q.5-.25 1 0"/>
<path class="Y" transform="matrix(-417 147 -147 -417 2325 1341)" d="M0 0Q.5-.25 1 0"/>
<path class="Y" transform="matrix(-81 338 -338 -81 2325 1341)" d="M0 0Q.5-.25 1 0"/>
<path class="y m" transform="matrix(-201 581 -581 -201 2325 1341)" d="M0 0Q.5-.25 1 0"/>
<path class="Y" transform="matrix(-669 199 -199 -669 2325 1341)" d="M0 0Q.5-.25 1 0"/>
<path class="Y" transform="matrix(-914 76 -76 -914 2325 1341)" d="M0 0Q.5-.25 1 0"/>
<path class="Y" transform="matrix(-657 464 -464 -657 2325 1341)" d="M0 0Q.5-.25 1 0"/>
<path class="Y" transform="matrix(-908 556 -556 -908 2325 1341)" d="M0 0Q.5-.25 1 0"/>
<path class="Y" transform="matrix(450 38 -38 450 137 1370)" d="M0 0Q.5-.25 1 0"/>
<path class="Y" transform="matrix(1274 47 -47 1274 137 1370)" d="M0 0Q.5-.25 1 0"/>
<path class="Y" transform="matrix(168 276 -276 168 137 1370)" d="M0 0Q.5-.25 1 0"/>
<path class="Y" transform="matrix(356 450 -450 356 137 1370)" d="M0 0Q.5-.25 1 0"/>
<path class="Y" transform="matrix(635 508 -508 635 137 1370)" d="M0 0Q.5-.25 1 0"/>
<path class="Y" transform="matrix(1045 87 -87 1045 137 1370)" d="M0 0Q.5-.25 1 0"/>
<path class="Y" transform="matrix(1057 -280 280 1057 137 1370)" d="M0 0Q.5-.25 1 0"/>
<path class="t" transform="matrix(272 182 -182 272 587 1408)" d="M0 0Q.5-.25 1 0"/>
<path class="t m" transform="matrix(830 489 -489 830 587 1408)" d="M0 0Q.5-.25 1 0"/>
<path class="t" transform="matrix(505 290 -290 505 587 1408)" d="M0 0Q.5-.25 1 0"/>
<path class="t" transform="matrix(453 548 -548 453 587 1408)" d="M0 0Q.5-.25 1 0"/>
<path class="t" transform="matrix(659 670 -670 659 587 1408)" d="M0 0Q.5-.25 1 0"/>
<path class="t" transform="matrix(1069 132 -132 1069 587 1408)" d="M0 0Q.5-.25 1 0"/>
<path class="t" transform="matrix(824 9 -9 824 587 1408)" d="M0 0Q.5-.25 1 0"/>
<path class="t" transform="matrix(595 49 -49 595 587 1408)" d="M0 0Q.5-.25 1 0"/>
<path class="t" transform="matrix(-94 412 -412 -94 587 1408)" d="M0 0Q.5-.25 1 0"/>
<path class="t" transform="matrix(1081 397 -397 1081 587 1408)" d="M0 0Q.5-.25 1 0"/>
<path class="t" transform="matrix(-282 238 -238 -282 587 1408)" d="M0 0Q.5-.25 1 0"/>
<path class="y m" transform="matrix(245 123 -123 245 1411 1417)" d="M0 0Q.5-.25 1 0"/>
<path class="y" transform="matrix(-229 40 -40 -229 1411 1417)" d="M0 0Q.5-.25 1 0"/>
<path class="y" transform="matrix(-319 281 -281 -319 1411 1417)" d="M0 0Q.5-.25 1 0"/>
<path class="y m" transform="matrix(6 480 -480 6 1411 1417)" d="M0 0Q.5-.25 1 0"/>
<path class="y" transform="matrix(257 388 -388 257 1411 1417)" d="M0 0Q.5-.25 1 0"/>
<path class="y" transform="matrix(497 71 -71 497 1411 1417)" d="M0 0Q.5-.25 1 0"/>
<path class="y" transform="matrix(-639 461 -461 -639 1411 1417)" d="M0 0Q.5-.25 1 0"/>
<path class="y" transform="matrix(-165 661 -661 -165 1411 1417)" d="M0 0Q.5-.25 1 0"/>
<path class="y" transform="matrix(-371 539 -539 -371 1411 1417)" d="M0 0Q.5-.25 1 0"/>
<path class="y" transform="matrix(713 505 -505 713 1411 1417)" d="M0 0Q.5-.25 1 0"/>
<path class="y" transform="matrix(833 262 -262 833 1411 1417)" d="M0 0Q.5-.25 1 0"/>
<path class="y" transform="matrix(-552 173 -173 -552 1411 1417)" d="M0 0Q.5-.25 1 0"/>
<path class="y" transform="matrix(-217 -327 327 -217 1411 1417)" d="M0 0Q.5-.25 1 0"/>
<path class="y" transform="matrix(235 440 -440 235 1182 1457)" d="M0 0Q.5-.25 1 0"/>
<path class="y" transform="matrix(-142 499 -499 -142 1182 1457)" d="M0 0Q.5-.25 1 0"/>
<path class="y" transform="matrix(-90 241 -241 -90 1182 1457)" d="M0 0Q.5-.25 1 0"/>
<path class="y" transform="matrix(474 83 -83 474 1182 1457)" d="M0 0Q.5-.25 1 0"/>
<path class="y" transform="matrix(64 621 -621 64 1182 1457)" d="M0 0Q.5-.25 1 0"/>
<path class="y" transform="matrix(-410 421 -421 -410 1182 1457)" d="M0 0Q.5-.25 1 0"/>
<path class="y" transform="matrix(12 -367 367 12 1182 1457)" d="M0 0Q.5-.25 1 0"/>
<path class="p" transform="matrix(-240 317 -317 -240 1908 1488)" d="M0 0Q.5-.25 1 0"/>
<path class="p" transform="matrix(-252 52 -52 -252 1908 1488)" d="M0 0Q.5-.25 1 0"/>
<path class="p" transform="matrix(336 191 -191 336 1908 1488)" d="M0 0Q.5-.25 1 0"/>
<path class="p" transform="matrix(216 434 -434 216 1908 1488)" d="M0 0Q.5-.25 1 0"/>
<path class="p" transform="matrix(-491 409 -409 -491 1908 1488)" d="M0 0Q.5-.25 1 0"/>
<path class="p" transform="matrix(-816 210 -210 -816 1908 1488)" d="M0 0Q.5-.25 1 0"/>
<path class="t m" transform="matrix(12 265 -265 12 1656 1540)" d="M0 0Q.5-.25 1 0"/>
<path class="t m" transform="matrix(-239 357 -357 -239 1656 1540)" d="M0 0Q.5-.25 1 0"/>
<path class="t" transform="matrix(588 139 -139 588 1656 1540)" d="M0 0Q.5-.25 1 0"/>
<path class="t" transform="matrix(468 382 -382 468 1656 1540)" d="M0 0Q.5-.25 1 0"/>
<path class="t" transform="matrix(-564 158 -158 -564 1656 1540)" d="M0 0Q.5-.25 1 0"/>
<path class="t" transform="matrix(-410 538 -538 -410 1656 1540)" d="M0 0Q.5-.25 1 0"/>
<path class="t" transform="matrix(-884 338 -338 -884 1656 1540)" d="M0 0Q.5-.25 1 0"/>
<path class="t" transform="matrix(-797 50 -50 -797 1656 1540)" d="M0 0Q.5-.25 1 0"/>
<path class="t" transform="matrix(-616 416 -416 -616 1656 1540)" d="M0 0Q.5-.25 1 0"/>
<path class="b m" transform="matrix(181 366 -366 181 859 1590)" d="M0 0Q.5-.25 1 0"/>
<path class="b" transform="matrix(558 307 -307 558 859 1590)" d="M0 0Q.5-.25 1 0"/>
<path class="b" transform="matrix(233 108 -108 233 859 1590)" d="M0 0Q.5-.25 1 0"/>
<path class="b" transform="matrix(809 215 -215 809 859 1590)" d="M0 0Q.5-.25 1 0"/>
<path class="b" transform="matrix(387 488 -488 387 859 1590)" d="M0 0Q.5-.25 1 0"/>
<path class="b" transform="matrix(-366 230 -230 -366 859 1590)" d="M0 0Q.5-.25 1 0"/>
<path class="b" transform="matrix(-554 56 -56 -554 859 1590)" d="M0 0Q.5-.25 1 0"/>
<path class="p" transform="matrix(-188 -174 174 -188 493 1820)" d="M0 0Q.5-.25 1 0"/>
<path class="b" transform="matrix(1112 251 -251 1112 305 1646)" d="M0 0Q.5-.25 1 0"/>
<path class="p" transform="matrix(-547 -136 136 -547 1040 1956)" d="M0 0Q.5-.25 1 0"/>
<path class="p" transform="matrix(-753 -258 258 -753 1246 2078)" d="M0 0Q.5-.25 1 0"/>
<path class="b" transform="matrix(787 52 -52 787 305 1646)" d="M0 0Q.5-.25 1 0"/>
<path class="g" transform="matrix(325 199 -199 325 1092 1698)" d="M0 0Q.5-.25 1 0"/>
<path class="g" transform="matrix(-52 258 -258 -52 1092 1698)" d="M0 0Q.5-.25 1 0"/>
<path class="g" transform="matrix(154 380 -380 154 1092 1698)" d="M0 0Q.5-.25 1 0"/>
<path class="g" transform="matrix(576 107 -107 576 1092 1698)" d="M0 0Q.5-.25 1 0"/>
<path class="Y" transform="matrix(-120 243 -243 -120 2244 1679)" d="M0 0Q.5-.25 1 0"/>
<path class="Y" transform="matrix(-576 126 -126 -576 2244 1679)" d="M0 0Q.5-.25 1 0"/>
<path class="Y" transform="matrix(-827 218 -218 -827 2244 1679)" d="M0 0Q.5-.25 1 0"/>
<path class="p" transform="matrix(279 58 -58 279 493 1820)" d="M0 0Q.5-.25 1 0"/>
<path class="p" transform="matrix(1175 -15 15 1175 493 1820)" d="M0 0Q.5-.25 1 0"/>
<path class="p" transform="matrix(924 77 -77 924 493 1820)" d="M0 0Q.5-.25 1 0"/>
<path class="p" transform="matrix(599 -122 122 599 493 1820)" d="M0 0Q.5-.25 1 0"/>
<path class="b m" transform="matrix(-251 92 -92 -251 1668 1805)" d="M0 0Q.5-.25 1 0"/>
<path class="b" transform="matrix(456 117 -117 456 1668 1805)" d="M0 0Q.5-.25 1 0"/>
<path class="b" transform="matrix(-422 273 -273 -422 1668 1805)" d="M0 0Q.5-.25 1 0"/>
<path class="b" transform="matrix(-628 151 -151 -628 1668 1805)" d="M0 0Q.5-.25 1 0"/>
<path class="b" transform="matrix(-896 73 -73 -896 1668 1805)" d="M0 0Q.5-.25 1 0"/>
<path class="g" transform="matrix(-377 59 -59 -377 1417 1897)" d="M0 0Q.5-.25 1 0"/>
<path class="g m" transform="matrix(-171 181 -181 -171 1417 1897)" d="M0 0Q.5-.25 1 0"/>
<path class="g" transform="matrix(707 25 -25 707 1417 1897)" d="M0 0Q.5-.25 1 0"/>
<path class="g" transform="matrix(-645 -19 19 -645 1417 1897)" d="M0 0Q.5-.25 1 0"/>
<path class="b" transform="matrix(206 122 -122 206 1040 1956)" d="M0 0Q.5-.25 1 0"/>
<path class="y" transform="matrix(474 200 -200 474 772 1878)" d="M0 0Q.5-.25 1 0"/>
<path class="g" transform="matrix(-878 156 -156 -878 2124 1922)" d="M0 0Q.5-.25 1 0"/>
<path class="g" transform="matrix(-46 614 -614 -46 2290 1065)" d="M0 0Q.5-.25 1 0"/>
<path class="g" transform="matrix(-166 857 -857 -166 2290 1065)" d="M0 0Q.5-.25 1 0"/>
<path class="g" transform="matrix(-382 423 -423 -382 2290 1065)" d="M0 0Q.5-.25 1 0"/>
</g>
<g id="nodes">
<g id="n-energy-efficiency" class="n"><circle cx="1346" cy="879" r="65" fill="#15c1a5"/><text x="1347" y="897" font-size="60" textLength="436" lengthAdjust="spacingAndGlyphs">energy efficiency</text></g>
<g id="n-retrofit" class="n"><circle cx="726" cy="795" r="40" fill="#3a9cbc"/><text x="728" y="809" font-size="47" textLength="137" lengthAdjust="spacingAndGlyphs">retrofit</text></g>
<g id="n-thermal-comfort" class="n"><circle cx="1411" cy="1417" r="33" fill="#b2df22"/><text x="1411" y="1430" font-size="42" textLength="298" lengthAdjust="spacingAndGlyphs">thermal comfort</text></g>
<g id="n-energy-consumption" class="n"><circle cx="1439" cy="1109" r="30" fill="#7a7ac2"/><text x="1442" y="1122" font-size="42" textLength="376" lengthAdjust="spacingAndGlyphs">energy consumption</text></g>
<g id="n-residential-buildings" class="n"><circle cx="1796" cy="1067" r="28" fill="#8a82cc"/><text x="1796" y="1079" font-size="40" textLength="350" lengthAdjust="spacingAndGlyphs">residential buildings</text></g>
<g id="n-energy-retrofit" class="n"><circle cx="1656" cy="1540" r="27" fill="#12bfa8"/><text x="1656" y="1552" font-size="39" textLength="247" lengthAdjust="spacingAndGlyphs">energy retrofit</text></g>
<g id="n-energy-performance" class="n"><circle cx="1668" cy="1805" r="25" fill="#4a94bc"/><text x="1669" y="1816" font-size="36" textLength="318" lengthAdjust="spacingAndGlyphs">energy performance</text></g>
<g id="n-energy-savings" class="n"><circle cx="1100" cy="493" r="23" fill="#7d7ac3"/><text x="1098" y="503" font-size="35" textLength="232" lengthAdjust="spacingAndGlyphs">energy savings</text></g>
<g id="n-climate-change" class="n"><circle cx="828" cy="984" r="20" fill="#f1e41a"/><text x="827" y="995" font-size="36" textLength="243" lengthAdjust="spacingAndGlyphs">climate change</text></g>
<g id="n-building-retrofit" class="n"><circle cx="1995" cy="1221" r="20" fill="#efe21a"/><text x="1998" y="1233" font-size="39" textLength="259" lengthAdjust="spacingAndGlyphs">building retrofit</text></g>
<g id="n-energyplus" class="n"><circle cx="1417" cy="1897" r="20" fill="#0fc36c"/><text x="1418" y="1908" font-size="36" textLength="177" lengthAdjust="spacingAndGlyphs">energyplus</text></g>
<g id="n-building-envelope" class="n"><circle cx="1887" cy="868" r="19" fill="#3a94c0"/><text x="1888" y="879" font-size="37" textLength="293" lengthAdjust="spacingAndGlyphs">building envelope</text></g>
<g id="n-energy-conservation" class="n"><circle cx="493" cy="1820" r="18" fill="#7c78c0"/><text x="491" y="1830" font-size="33" textLength="301" lengthAdjust="spacingAndGlyphs">energy conservation</text></g>
<g id="n-building-energy" class="n"><circle cx="1724" cy="580" r="17" fill="#14c7a2"/><text x="1724" y="590" font-size="34" textLength="228" lengthAdjust="spacingAndGlyphs">building energy</text></g>
<g id="n-building-energy-simulation" class="n"><circle cx="587" cy="1408" r="17" fill="#1cbfa2"/><text x="584" y="1418" font-size="34" textLength="392" lengthAdjust="spacingAndGlyphs">building energy simulation</text></g>
<g id="n-sensitivity-analysis" class="n"><circle cx="1182" cy="1457" r="17" fill="#c5e222"/><text x="1182" y="1467" font-size="34" textLength="280" lengthAdjust="spacingAndGlyphs" style="fill:#c2c2c2">sensitivity analysis</text></g>
<g id="n-simulation" class="n"><circle cx="1908" cy="1488" r="17" fill="#8a86cc"/><text x="1911" y="1498" font-size="34" textLength="156" lengthAdjust="spacingAndGlyphs">simulation</text></g>
<g id="n-buildings" class="n"><circle cx="953" cy="64" r="16" fill="#8b86cf"/><text x="954" y="74" font-size="34" textLength="134" lengthAdjust="spacingAndGlyphs">buildings</text></g>
<g id="n-energy" class="n"><circle cx="582" cy="416" r="16" fill="#8580c8"/><text x="582" y="426" font-size="33" textLength="101" lengthAdjust="spacingAndGlyphs">energy</text></g>
<g id="n-residential-building" class="n"><circle cx="340" cy="982" r="16" fill="#14c898"/><text x="341" y="992" font-size="35" textLength="289" lengthAdjust="spacingAndGlyphs">residential building</text></g>
<g id="n-energy-use" class="n"><circle cx="534" cy="1198" r="16" fill="#2ccd7c"/><text x="531" y="1208" font-size="33" textLength="162" lengthAdjust="spacingAndGlyphs">energy use</text></g>
<g id="n-building-simulation" class="n"><circle cx="859" cy="1590" r="16" fill="#3a9ec0"/><text x="862" y="1600" font-size="34" textLength="282" lengthAdjust="spacingAndGlyphs">building simulation</text></g>
<g id="n-multi-objective-optimization" class="n"><circle cx="2325" cy="1341" r="15" fill="#dfe422"/><text x="2327" y="1351" font-size="34" textLength="411" lengthAdjust="spacingAndGlyphs">multi-objective optimization</text></g>
<g id="n-life-cycle-assessment" class="n"><circle cx="1889" cy="270" r="14" fill="#b5de30"/><text x="1891" y="279" font-size="30" textLength="277" lengthAdjust="spacingAndGlyphs">life cycle assessment</text></g>
<g id="n-life-cycle-cost" class="n"><circle cx="2079" cy="487" r="14" fill="#c5e21e"/><text x="2081" y="496" font-size="30" textLength="177" lengthAdjust="spacingAndGlyphs">life cycle cost</text></g>
<g id="n-energy-saving" class="n"><circle cx="2290" cy="1065" r="14" fill="#3ed072"/><text x="2295" y="1075" font-size="33" textLength="206" lengthAdjust="spacingAndGlyphs">energy saving</text></g>
<g id="n-social-housing" class="n"><circle cx="137" cy="1370" r="14" fill="#f2e030"/><text x="138" y="1379" font-size="30" textLength="183" lengthAdjust="spacingAndGlyphs">social housing</text></g>
<g id="n-energy-efficiency-measures" class="n"><circle cx="2244" cy="1679" r="14" fill="#f0e232"/><text x="2246" y="1688" font-size="30" textLength="357" lengthAdjust="spacingAndGlyphs">energy efficiency measures</text></g>
<g id="n-thermal-performance" class="n"><circle cx="772" cy="1878" r="14" fill="#9ede2c"/><text x="771" y="1887" font-size="30" textLength="278" lengthAdjust="spacingAndGlyphs">thermal performance</text></g>
<g id="n-energy-simulation" class="n"><circle cx="1246" cy="2078" r="14" fill="#1cc88e"/><text x="1246" y="2088" font-size="34" textLength="266" lengthAdjust="spacingAndGlyphs">energy simulation</text></g>
<g id="n-optimization" class="n"><circle cx="1397" cy="608" r="13" fill="#2ccc7a"/><text x="1399" y="617" font-size="31" textLength="166" lengthAdjust="spacingAndGlyphs">optimization</text></g>
<g id="n-office-buildings" class="n"><circle cx="1117" cy="756" r="13" fill="#8a86cc"/><text x="1117" y="765" font-size="31" textLength="208" lengthAdjust="spacingAndGlyphs">office buildings</text></g>
<g id="n-building-performance-simulatio" class="n"><circle cx="839" cy="1264" r="13" fill="#f2e424"/><text x="840" y="1273" font-size="31" textLength="417" lengthAdjust="spacingAndGlyphs">building performance simulatio</text></g>
<g id="n-dynamic-simulation" class="n"><circle cx="2124" cy="1922" r="13" fill="#2ec86c"/><text x="2125" y="1931" font-size="30" textLength="255" lengthAdjust="spacingAndGlyphs">dynamic simulation</text></g>
<g id="n-calibration" class="n"><circle cx="1040" cy="1956" r="13" fill="#1ea8c0"/><text x="1039" y="1965" font-size="31" textLength="143" lengthAdjust="spacingAndGlyphs">calibration</text></g>
<g id="n-sustainability" class="n"><circle cx="758" cy="248" r="12" fill="#17a8a8"/><text x="758" y="257" font-size="31" textLength="179" lengthAdjust="spacingAndGlyphs">sustainability</text></g>
<g id="n-hvac" class="n"><circle cx="1092" cy="1698" r="12" fill="#10c07e"/><text x="1092" y="1707" font-size="30" textLength="62" lengthAdjust="spacingAndGlyphs">hvac</text></g>
<g id="n-renovation" class="n"><circle cx="1194" cy="1090" r="11" fill="#c6e048"/><text x="1194" y="1099" font-size="30" textLength="141" lengthAdjust="spacingAndGlyphs">renovation</text></g>
<g id="n-retrofitting" class="n"><circle cx="305" cy="1646" r="11" fill="#3a8cc2"/><text x="305" y="1656" font-size="32" textLength="145" lengthAdjust="spacingAndGlyphs">retrofitting</text></g>
</g>
<g id="legend">
<rect x="2416" y="2123" width="805" height="122" rx="26" fill="#fff" stroke="#d6d6d6" stroke-width="3"/>
<rect x="2443" y="2144" width="753" height="42" fill="url(#leg)" stroke="#777" stroke-width="2.5"/>
<g stroke="#666" stroke-width="2">
<line x1="2481" y1="2170" x2="2481" y2="2200"/>
<line x1="2707" y1="2170" x2="2707" y2="2200"/>
<line x1="2931" y1="2170" x2="2931" y2="2200"/>
<line x1="3157" y1="2170" x2="3157" y2="2200"/>
</g>
<text class="lg" x="2481" y="2229">2015</text>
<text class="lg" x="2707" y="2229">2016</text>
<text class="lg" x="2931" y="2229">2017</text>
<text class="lg" x="3157" y="2229">2018</text>
</g>
<g id="controls" fill="none" stroke="#d4d4d4" stroke-width="2.5">
<rect x="3052" y="-30" width="170" height="148" rx="22" fill="#fff"/>
<polygon points="3118,16 3155,16 3136,52"/>
<rect x="3076" y="78" width="36" height="14"/>
<polygon points="3173,67 3187,67 3187,78 3198,78 3198,92 3187,92 3187,103 3173,103 3173,92 3162,92 3162,78 3173,78"/>
</g>
</svg>
